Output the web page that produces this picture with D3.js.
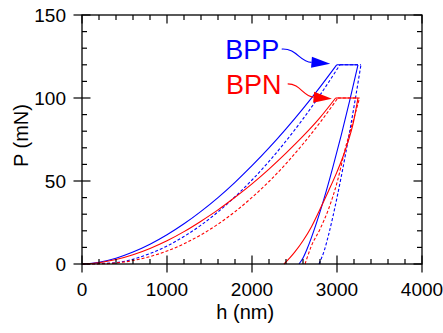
<!DOCTYPE html>
<html>
<head>
<meta charset="utf-8">
<script src="https://cdn.jsdelivr.net/npm/d3@7"></script>
<style>
  body { margin: 0; background: #fff; }
  svg { display: block; font-family: "Liberation Sans", Arial, sans-serif; }
</style>
</head>
<body>
<svg width="443" height="333"></svg>
<script>
// load-depth data, [h (nm), P (mN)]
// loading goes up to the hold, unloading is listed from the top down
const bppLoadSolid = [[0, 0], [200, 1.1], [400, 3.5], [600, 7.2], [800, 11.9], [1000, 17.6],
  [1200, 24.2], [1400, 31.7], [1600, 40], [1800, 49.2], [2000, 59.2], [2200, 69.9],
  [2400, 81.4], [2600, 93.6], [2800, 106.6], [2996, 120]];
const bppUnloadSolid = [[3247, 120], [3150, 98.6], [3050, 77.7], [2950, 58.1], [2850, 39.8],
  [2750, 23.4], [2650, 9.3], [2600, 3.6], [2553, 0]];

const bppLoadDash = [[0, 0], [200, 0.3], [400, 0.8], [600, 2.9], [800, 6.3], [1000, 10.8],
  [1200, 16.6], [1400, 23.4], [1600, 31.4], [1800, 40.5], [2000, 50.6], [2200, 61.8],
  [2400, 74.1], [2600, 87.4], [2800, 101.8], [3035, 120]];
const bppUnloadDash = [[3282, 120], [3200, 94.8], [3100, 66], [3000, 40], [2900, 17.4],
  [2850, 8.1], [2788, 0]];

const bpnLoadSolid = [[0, 0], [200, 0.8], [400, 2.7], [600, 5.6], [800, 9.4], [1000, 14],
  [1200, 19.5], [1400, 25.8], [1600, 32.6], [1800, 40.2], [2000, 48.3], [2200, 57.2],
  [2400, 66.8], [2600, 77], [2800, 88.2], [2984, 100]];
const bpnUnloadSolid = [[3247, 100], [3200, 87], [3100, 69], [3000, 55.5], [2900, 44],
  [2800, 33], [2700, 22.5], [2600, 14], [2500, 7], [2450, 4], [2376, 0]];

const bpnLoadDash = [[0, 0], [200, 0.1], [400, 0.6], [600, 2.1], [800, 4.5], [1000, 7.8],
  [1200, 12.2], [1400, 17.6], [1600, 24], [1800, 31.5], [2000, 40.1], [2200, 49.7],
  [2400, 60.4], [2600, 72.3], [2800, 85.2], [3010, 100]];
const bpnUnloadDash = [[3265, 100], [3200, 88], [3100, 70], [3000, 49], [2900, 33],
  [2800, 21], [2700, 11], [2650, 4], [2624, 0]];

const xTicks = [0, 1000, 2000, 3000, 4000];
const yTicks = [0, 50, 100, 150];

const series = [
  { load: bppLoadSolid, unload: bppUnloadSolid, color: "#0000ff", dash: null },
  { load: bppLoadDash, unload: bppUnloadDash, color: "#0000ff", dash: "3,2" },
  { load: bpnLoadSolid, unload: bpnUnloadSolid, color: "#ff0000", dash: null },
  { load: bpnLoadDash, unload: bpnUnloadDash, color: "#ff0000", dash: "3,2" }
];

const labels = [
  { text: "BPP", h: 1685, p: 123.5, color: "#0000ff" },
  { text: "BPN", h: 1695, p: 102.4, color: "#ff0000" }
];
// arrows: start, two control points, arrowhead base, tip (data units)
const arrows = [
  { color: "#0000ff", pts: [[2350, 129.5], [2530, 130], [2560, 121.5], [2700, 121.5], [2920, 120.6]] },
  { color: "#ff0000", pts: [[2420, 108.5], [2570, 108.5], [2600, 101], [2725, 100.5], [2940, 99.5]] }
];

const margin = { top: 15, left: 82, right: 21, bottom: 69 };
const width = 443, height = 333;
const svg = d3.select("svg");

const x = d3.scaleLinear().domain([0, 4000]).range([margin.left, width - margin.right]);
const y = d3.scaleLinear().domain([0, 150]).range([height - margin.bottom, margin.top]);

const x0 = x(0), x1 = x(4000), y0 = y(0), y1 = y(150);

// curves
const line = d3.line().x(d => x(d[0])).y(d => y(d[1])).curve(d3.curveMonotoneX);
const curves = svg.append("g").attr("fill", "none").attr("stroke-width", 1.1);
series.forEach(s => {
  const g = curves.append("g").attr("stroke", s.color).attr("stroke-dasharray", s.dash);
  g.append("path").attr("d", line(s.load));
  g.append("path").attr("d", d3.line().x(d => x(d[0])).y(d => y(d[1]))(
    [s.load[s.load.length - 1], s.unload[0]]));
  g.append("path").attr("d", line(s.unload.slice().reverse()));
});

// frame
svg.append("rect")
  .attr("x", x0).attr("y", y1)
  .attr("width", x1 - x0).attr("height", y0 - y1)
  .attr("fill", "none").attr("stroke", "black").attr("stroke-width", 1.3);

const ticks = svg.append("g").attr("stroke", "black").attr("stroke-width", 1.2);
const xMinor = d3.range(0, 4001, 200);
const yMinor = d3.range(0, 151, 10);
const maj = 8.5, mnr = 5;

ticks.selectAll("line.xb").data(xMinor).join("line").classed("xb", true)
  .attr("x1", d => x(d)).attr("x2", d => x(d))
  .attr("y1", d => xTicks.includes(d) ? y0 + maj : y0)
  .attr("y2", d => y0 - (xTicks.includes(d) ? maj : mnr));
ticks.selectAll("line.xt").data(xMinor).join("line").classed("xt", true)
  .attr("x1", d => x(d)).attr("x2", d => x(d))
  .attr("y1", y1)
  .attr("y2", d => y1 + (xTicks.includes(d) ? maj : mnr));
ticks.selectAll("line.yl").data(yMinor).join("line").classed("yl", true)
  .attr("y1", d => y(d)).attr("y2", d => y(d))
  .attr("x1", d => yTicks.includes(d) ? x0 - maj : x0)
  .attr("x2", d => x0 + (yTicks.includes(d) ? maj : mnr));
ticks.selectAll("line.yr").data(yMinor).join("line").classed("yr", true)
  .attr("y1", d => y(d)).attr("y2", d => y(d))
  .attr("x1", x1)
  .attr("x2", d => x1 - (yTicks.includes(d) ? maj : mnr));

// tick labels
svg.append("g").selectAll("text").data(xTicks).join("text")
  .attr("x", d => x(d)).attr("y", y0 + 32)
  .attr("text-anchor", "middle").attr("font-size", 19)
  .text(d => d);
svg.append("g").selectAll("text").data(yTicks).join("text")
  .attr("x", x0 - 16).attr("y", d => y(d)).attr("dy", "0.36em")
  .attr("text-anchor", "end").attr("font-size", 19)
  .text(d => d);

// axis titles
svg.append("text")
  .attr("x", x(1920)).attr("y", y0 + 55)
  .attr("text-anchor", "middle").attr("font-size", 20)
  .text("h (nm)");
svg.append("text")
  .attr("transform", `translate(28,${(y0 + y1) / 2 - 4}) rotate(-90)`)
  .attr("text-anchor", "middle").attr("font-size", 20)
  .text("P (mN)");

// annotations
svg.append("g").selectAll("text").data(labels).join("text")
  .attr("x", d => x(d.h)).attr("y", d => y(d.p))
  .attr("fill", d => d.color).attr("font-size", 27)
  .text(d => d.text);

arrows.forEach(a => {
  const p = a.pts.map(d => [x(d[0]), y(d[1])]);
  const path = d3.path();
  path.moveTo(...p[0]);
  path.bezierCurveTo(...p[1], ...p[2], ...p[3]);
  svg.append("path").attr("d", path.toString())
    .attr("fill", "none").attr("stroke", a.color).attr("stroke-width", 1.2);
  const [bx, by] = p[3], [tx, ty] = p[4];
  const dx = tx - bx, dy = ty - by, len = Math.hypot(dx, dy);
  const nx = -dy / len * 5.5, ny = dx / len * 5.5;
  svg.append("path")
    .attr("d", `M${tx},${ty}L${bx + nx},${by + ny}L${bx - nx},${by - ny}Z`)
    .attr("fill", a.color);
});
</script>
</body>
</html>
